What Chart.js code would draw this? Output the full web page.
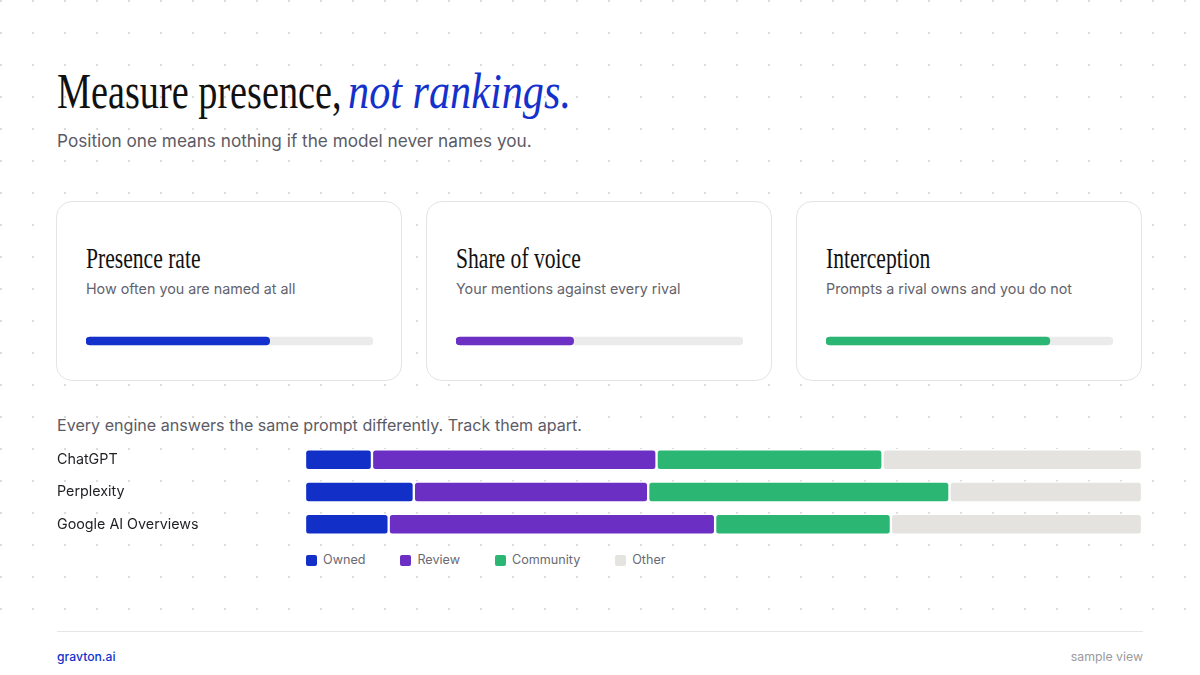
<!DOCTYPE html>
<html>
<head>
<meta charset="utf-8">
<script src="https://cdn.jsdelivr.net/npm/chart.js@4"></script>
<style>
  html, body { margin: 0; padding: 0; }
  body {
    width: 1200px; height: 675px; position: relative; overflow: hidden;
    background-color: #fff;
    background-image: radial-gradient(circle at 1px 1px, #dcdcdc 1px, transparent 1.6px);
    background-size: 32px 32px;
    font-family: Inter, "Noto Sans", sans-serif;
  }
  .abs { position: absolute; white-space: nowrap; }
  .serif { font-family: "Liberation Serif", "DejaVu Serif", serif; transform-origin: 0 0; transform: scaleX(0.72); }
  .title { top: 66px; font-size: 50px; line-height: 50px; color: #111; }
  #titleA { left: 57px; transform: scaleX(0.765); }
  #titleB { left: 348px; transform: scaleX(0.845); color: #1431cc; font-style: italic; }
  #sub { left: 57px; top: 131px; font-size: 17.2px; line-height: 19px; color: #5b5b66; }
  .card { position: absolute; top: 201px; width: 344px; height: 178px; background: #fff; border: 1px solid #e4e4e4; border-radius: 16px; }
  .card .ct { left: 29px; top: 41px; font-size: 30px; line-height: 30px; color: #111; }
  .card .cs { left: 29px; top: 79px; font-size: 14.3px; line-height: 15px; color: #62626c; }
  .card canvas { position: absolute; left: 29px; top: 134px; }
  #lead { left: 57px; top: 417px; font-size: 16.1px; line-height: 16px; color: #5b5b66; }
  #engineWrap { position: absolute; left: 57px; top: 435px; width: 1085px; height: 114px; }
  #legend { position: absolute; left: 306px; top: 552px; display: flex; font-size: 12.6px; color: #6a6a72; }
  #legend .item { display: flex; align-items: center; margin-right: 35px; line-height: 16px; }
  #legend .box { width: 11px; height: 11px; border-radius: 2px; margin-right: 6px; }
  #footer { position: absolute; left: 0; top: 620px; width: 1200px; height: 55px; background: #fff; }
  #footer .line { position: absolute; left: 57px; top: 11px; width: 1086px; height: 1px; background: #e6e6e6; }
  #brand { left: 57px; top: 29px; font-size: 12.2px; line-height: 15px; color: #1431cc; font-weight: 500; }
  #note { right: 57px; top: 29px; font-size: 12.3px; line-height: 15px; color: #9a9aa0; }
</style>
</head>
<body>
<div id="titleA" class="abs serif title">Measure presence,</div>
<div id="titleB" class="abs serif title">not rankings.</div>
<div id="sub" class="abs">Position one means nothing if the model never names you.</div>

<div class="card" style="left:56px"><div class="abs serif ct">Presence rate</div><div class="abs cs">How often you are named at all</div><canvas id="m0" width="287" height="10"></canvas></div>
<div class="card" style="left:426px"><div class="abs serif ct">Share of voice</div><div class="abs cs">Your mentions against every rival</div><canvas id="m1" width="287" height="10"></canvas></div>
<div class="card" style="left:796px"><div class="abs serif ct">Interception</div><div class="abs cs">Prompts a rival owns and you do not</div><canvas id="m2" width="287" height="10"></canvas></div>

<div id="lead" class="abs">Every engine answers the same prompt differently. Track them apart.</div>
<div id="engineWrap"><canvas id="engines"></canvas></div>
<div id="legend"></div>

<div id="footer">
  <div class="line"></div>
  <div id="brand" class="abs">gravton.ai</div>
  <div id="note" class="abs">sample view</div>
</div>

<script>
// metric cards
const metricValues = [64, 41, 78];
const metricColors = ['#1431cc', '#6c30c4', '#2bb673'];

// engine source mix, percent of citations
const engines = ['ChatGPT', 'Perplexity', 'Google AI Overviews'];
const owned = [8, 13, 10];
const review = [34, 28, 39];
const community = [27, 36, 21];
const other = [31, 23, 30];
const sourceNames = ['Owned', 'Review', 'Community', 'Other'];
const sourceColors = ['#1230c8', '#6b2fc4', '#2bb673', '#e4e3df'];

Chart.defaults.font.family = 'Inter, "Noto Sans", sans-serif';
Chart.defaults.animation = false;

metricValues.forEach((v, i) => {
  new Chart(document.getElementById('m' + i), {
    type: 'bar',
    data: {
      labels: [''],
      datasets: [
        { data: [v], backgroundColor: metricColors[i], borderRadius: 4, borderSkipped: false, barThickness: 8, grouped: false },
        { data: [100], backgroundColor: '#ebebeb', borderRadius: 4, borderSkipped: false, barThickness: 8, grouped: false }
      ]
    },
    options: {
      indexAxis: 'y',
      responsive: false,
      layout: { padding: 0 },
      scales: { x: { display: false, min: 0, max: 100 }, y: { display: false } },
      plugins: { legend: { display: false }, tooltip: { enabled: false } }
    }
  });
});

// turn segment widths into floating ranges so every piece keeps its rounding
const series = [owned, review, community, other];
const starts = engines.map(() => 0);
const datasets = series.map((vals, s) => {
  const ranges = vals.map((v, i) => {
    const r = [starts[i], starts[i] + v];
    starts[i] += v;
    return r;
  });
  return {
    label: sourceNames[s],
    data: ranges,
    backgroundColor: sourceColors[s],
    borderColor: '#ffffff',
    borderWidth: 1.5,
    borderRadius: 4,
    borderSkipped: false,
    barThickness: 21,
    grouped: false
  };
});

const chart = new Chart(document.getElementById('engines'), {
  type: 'bar',
  data: { labels: engines, datasets },
  options: {
    indexAxis: 'y',
    responsive: true,
    maintainAspectRatio: false,
    layout: { padding: 0 },
    scales: {
      x: { display: false, min: 0, max: 100 },
      y: {
        grid: { display: false },
        border: { display: false },
        ticks: { crossAlign: 'far', color: '#1f1f24', font: { size: 14.3 }, padding: 0 },
        afterFit: s => { s.width = 248; }
      }
    },
    plugins: { legend: { display: false }, tooltip: { enabled: false } }
  }
});

const legendEl = document.getElementById('legend');
chart.data.datasets.forEach(ds => {
  const item = document.createElement('div');
  item.className = 'item';
  item.innerHTML = '<span class="box" style="background:' + ds.backgroundColor + '"></span>' + ds.label;
  legendEl.appendChild(item);
});
</script>
</body>
</html>
